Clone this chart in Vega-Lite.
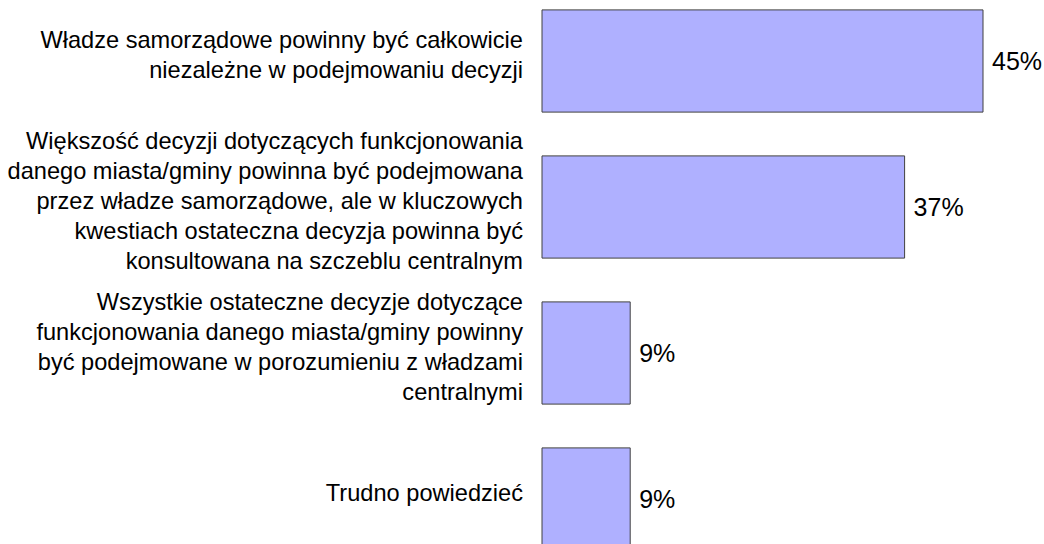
{
  "$schema": "https://vega.github.io/schema/vega-lite/v6.json",
  "autosize": "none",
  "padding": {"left": 542, "top": -12, "right": 12, "bottom": 0},
  "width": 490,
  "height": 584,
  "background": "white",
  "config": {"view": {"stroke": null}, "font": "Liberation Sans"},
  "datasets": {
    "bars": [
      {"label": "A", "value": 45, "text": "45%"},
      {"label": "B", "value": 37, "text": "37%"},
      {"label": "C", "value": 9, "text": "9%"},
      {"label": "D", "value": 9, "text": "9%"}
    ],
    "lines": [
      {"label": "A", "line": -0.5, "t": "Władze samorządowe powinny być całkowicie"},
      {"label": "A", "line": 0.5, "t": "niezależne w podejmowaniu decyzji"},
      {"label": "B", "line": -2, "t": "Większość decyzji dotyczących funkcjonowania"},
      {"label": "B", "line": -1, "t": "danego miasta/gminy powinna być podejmowana"},
      {"label": "B", "line": 0, "t": "przez władze samorządowe, ale w kluczowych"},
      {"label": "B", "line": 1, "t": "kwestiach ostateczna decyzja powinna być"},
      {"label": "B", "line": 2, "t": "konsultowana na szczeblu centralnym"},
      {"label": "C", "line": -1.5, "t": "Wszystkie ostateczne decyzje dotyczące"},
      {"label": "C", "line": -0.5, "t": "funkcjonowania danego miasta/gminy powinny"},
      {"label": "C", "line": 0.5, "t": "być podejmowane w porozumieniu z władzami"},
      {"label": "C", "line": 1.5, "t": "centralnymi"},
      {"label": "D", "line": 0, "t": "Trudno powiedzieć"}
    ]
  },
  "resolve": {"scale": {"yOffset": "independent"}},
  "layer": [
    {
      "data": {"name": "bars"},
      "mark": {"type": "bar", "color": "#AFB0FF", "stroke": "#404040", "strokeWidth": 1},
      "encoding": {
        "y": {"field": "label", "type": "nominal", "sort": null,
          "scale": {"domain": ["A", "B", "C", "D"], "paddingInner": 0.3, "paddingOuter": 0.15}, "axis": null},
        "x": {"field": "value", "type": "quantitative", "scale": {"domain": [0, 50]}, "axis": null}
      }
    },
    {
      "data": {"name": "bars"},
      "mark": {"type": "text", "align": "left", "baseline": "middle", "dx": 9, "dy": 1, "fontSize": 25, "color": "#000000", "font": "Liberation Sans"},
      "encoding": {
        "y": {"field": "label", "type": "nominal", "sort": null},
        "x": {"field": "value", "type": "quantitative"},
        "text": {"field": "text"}
      }
    },
    {
      "data": {"name": "lines"},
      "mark": {"type": "text", "align": "right", "baseline": "middle", "dx": -19, "dy": -5, "fontSize": 23.6, "color": "#000000", "font": "Liberation Sans"},
      "encoding": {
        "y": {"field": "label", "type": "nominal", "sort": null},
        "yOffset": {"field": "line", "type": "quantitative", "scale": {"domain": [-2, 2], "range": [-9, 111]}},
        "x": {"datum": 0},
        "text": {"field": "t"}
      }
    }
  ]
}
